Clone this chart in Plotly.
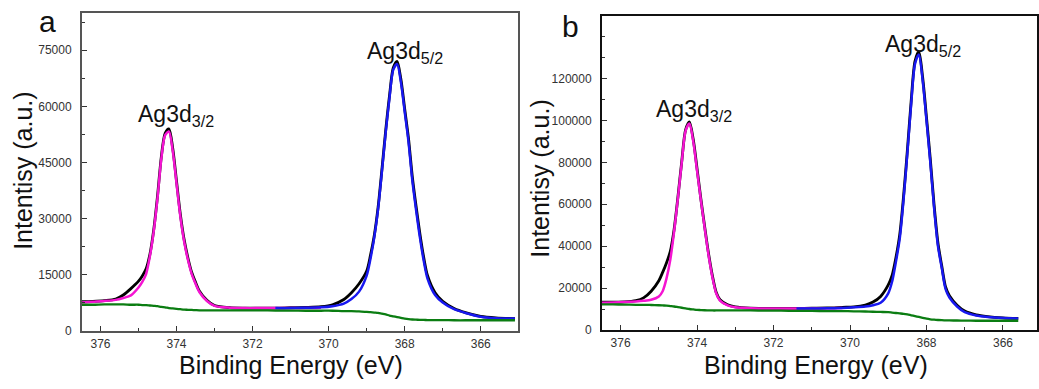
import plotly.graph_objects as go

# ---------------- data ----------------
energy_ev = [376.5, 376.2, 375.9, 375.6, 375.4, 375.2, 375.0, 374.9, 374.8, 374.7,
             374.6, 374.5, 374.4, 374.3, 374.2, 374.1, 374.0, 373.9, 373.8, 373.7,
             373.6, 373.5, 373.4, 373.2, 373.0, 372.6, 372.2, 371.8, 371.4, 371.0,
             370.6, 370.2, 369.9, 369.6, 369.4, 369.2, 369.0, 368.9, 368.8, 368.7,
             368.6, 368.5, 368.4, 368.3, 368.2, 368.1, 368.0, 367.9, 367.8, 367.7,
             367.6, 367.5, 367.4, 367.2, 367.0, 366.7, 366.4, 366.0, 365.6, 365.1]

energy_3d32 = energy_ev[:32]   # Ag3d3/2 fitted component range
energy_3d52 = energy_ev[28:]   # Ag3d5/2 fitted component range

# panel a
a_raw = [7800, 7900, 8100, 8500, 9600, 11300, 13300, 14700, 16600, 20500,
         27000, 36000, 46500, 52800, 54000, 48800, 40000, 31200, 24400, 19500,
         15600, 13000, 10700, 8200, 6800, 6200, 6100, 6100, 6100, 6200,
         6300, 6500, 7000, 8400, 10200, 12600, 16000, 20200, 25500, 33000,
         43000, 53500, 62800, 70300, 72000, 67300, 59400, 51500, 41300, 33300,
         26000, 19700, 14800, 10200, 7900, 6000, 4900, 3900, 3500, 3300]
a_fit_3d32 = [7600, 7800, 8000, 8300, 8800, 9500, 11600, 13100, 15200, 20000,
              26600, 35500, 46000, 52300, 53300, 48100, 39400, 30600, 23900, 19000,
              15200, 12600, 10400, 8000, 6700, 6200, 6100, 6100, 6100, 6100,
              6100, 6200]
a_fit_3d52 = [6100, 6100, 6200, 6300, 6600, 7300, 8500, 10500, 14800, 19300,
              25000, 32500, 42500, 53000, 62200, 69800, 71300, 66500, 58600, 50600,
              40300, 32300, 25000, 18800, 14000, 9600, 7600, 5800, 4800, 3800,
              3400, 3300]
a_background = [7000, 7000, 7100, 7100, 7100, 7000, 7000, 6900, 6900,
                6800, 6700, 6600, 6400, 6300, 6100, 6000, 5900,
                5800, 5700, 5650, 5600, 5550, 5500, 5500, 5500,
                5500, 5500, 5500, 5450, 5450, 5400, 5400,
                5400, 5300, 5300, 5200, 5100,
                5000, 4900, 4800, 4600, 4400, 4100, 3900, 3700, 3500, 3300,
                3150, 3050, 3000, 2950, 2950, 2900, 2900, 2900,
                2850, 2850, 2850, 2850, 2850]

# panel b
b_raw = [13300, 13300, 13400, 14000, 15300, 18500, 23500, 27500, 32000, 37500,
         48000, 63500, 80500, 95500, 99300, 91000, 77000, 62500, 49200, 36500,
         26000, 18000, 14400, 12000, 11000, 10400, 10300, 10300, 10300, 10400,
         10500, 10800, 11000, 11900, 13300, 16000, 21500, 26000, 34500, 45500,
         63800, 85800, 109500, 128300, 132800, 120500, 101500, 81500, 59500, 41500,
         30500, 20500, 16300, 11800, 9000, 7200, 6400, 5800, 5500, None]
b_fit_3d32 = [13000, 13100, 13300, 13600, 13900, 14400, 16000, 18500, 24500, 33500,
              47000, 63000, 80000, 95000, 98500, 90000, 76000, 62000, 48600, 35800,
              25300, 17500, 14000, 11700, 10800, 10300, 10200, 10200, 10200, 10200,
              10300, 10500]
b_fit_3d52 = [10200, 10200, 10300, 10500, 10800, 11200, 11800, 13000, 17500, 23000,
              32500, 43600, 62200, 84400, 108000, 127000, 131500, 119000, 100000, 80000,
              58000, 40000, 29500, 19500, 15500, 11200, 8500, 6900, 6200, 5700,
              5500, None]
b_background = [12200, 12200, 12100, 12000, 12000, 11900, 11800, 11700, 11600,
                11400, 11200, 10900, 10600, 10300, 10000, 9800, 9600,
                9500, 9400, 9350, 9300, 9300, 9300, 9300, 9300,
                9300, 9200, 9200, 9100, 9100, 9000, 9000,
                8900, 8800, 8700, 8600, 8500,
                8300, 8100, 7900, 7700, 7400, 7000, 6600, 6200, 5800, 5400,
                5100, 4900, 4750, 4650, 4600, 4550, 4500, 4450,
                4400, 4400, 4400, 4400, None]

x_ticks = [376, 374, 372, 370, 368, 366]
a_y_ticks = [0, 15000, 30000, 45000, 60000, 75000]
b_y_ticks = [0, 20000, 40000, 60000, 80000, 100000, 120000]

panel_labels = ["a", "b"]
peak_labels = ["Ag3d<sub>3/2</sub>", "Ag3d<sub>5/2</sub>"]
x_title = "Binding Energy (eV)"
y_title = "Intentisy (a.u.)"

# ---------------- figure ----------------
W, H = 1039, 389
FONT = "Liberation Sans, Arial, Helvetica, sans-serif"

COL_RAW = "#000000"
COL_32 = "#f514d2"
COL_52 = "#1818f0"
COL_BG = "#0b7d12"

fig = go.Figure()


def add_panel(raw, fit32, fit52, bg, xa, ya):
    common = dict(mode="lines", xaxis=xa, yaxis=ya, showlegend=False,
                  hoverinfo="skip")
    fig.add_trace(go.Scatter(x=energy_ev, y=raw,
                             line=dict(color=COL_RAW, width=2.8, shape="spline", smoothing=0.8),
                             **common))
    fig.add_trace(go.Scatter(x=energy_3d32, y=fit32,
                             line=dict(color=COL_32, width=2.5, shape="spline", smoothing=0.8),
                             **common))
    fig.add_trace(go.Scatter(x=energy_3d52, y=fit52,
                             line=dict(color=COL_52, width=2.5, shape="spline", smoothing=0.8),
                             **common))
    fig.add_trace(go.Scatter(x=energy_ev, y=bg,
                             line=dict(color=COL_BG, width=2.3, shape="spline", smoothing=0.8),
                             **common))


add_panel(a_raw, a_fit_3d32, a_fit_3d52, a_background, "x", "y")
add_panel(b_raw, b_fit_3d32, b_fit_3d52, b_background, "x2", "y2")


def px_x(p):
    return p / W


def px_y(p):
    return 1 - p / H


def xaxis(domain, rng, linecol):
    return dict(domain=domain, range=rng, tickmode="array", tickvals=x_ticks,
                ticktext=[str(t) for t in x_ticks],
                ticks="inside", ticklen=5, tickwidth=1, tickcolor="#333",
                minor=dict(ticks="inside", ticklen=3, dtick=1, tick0=0, tickcolor="#333"),
                showline=True, linecolor=linecol, linewidth=1.6, mirror=True,
                showgrid=False, zeroline=False, ticklabelstandoff=1,
                tickfont=dict(family=FONT, size=12, color="#333"))


def yaxis(domain, rng, ticks, minor_dtick, linecol, anchor):
    return dict(domain=domain, range=rng, tickmode="array", tickvals=ticks,
                ticktext=[str(t) for t in ticks], anchor=anchor,
                ticks="inside", ticklen=5, tickwidth=1, tickcolor="#333",
                minor=dict(ticks="inside", ticklen=3, dtick=minor_dtick, tick0=0,
                           tickcolor="#333"),
                showline=True, linecolor=linecol, linewidth=1.6, mirror=True,
                showgrid=False, zeroline=False, ticklabelstandoff=6,
                tickfont=dict(family=FONT, size=12, color="#333"))


fig.update_layout(
    width=W, height=H,
    margin=dict(l=0, r=0, t=0, b=0),
    paper_bgcolor="white", plot_bgcolor="white",
    font=dict(family=FONT, color="#111"),
    xaxis=dict(**xaxis([px_x(82), px_x(519)], [376.49, 365.02], "#555"), anchor="y"),
    yaxis=yaxis([px_y(337), px_y(13)], [0, 85000], a_y_ticks, 7500, "#555", "x"),
    xaxis2=dict(**xaxis([px_x(603), 1.0], [376.49, 365.11], "#111"), anchor="y2"),
    yaxis2=yaxis([px_y(336), px_y(16)], [0, 150000], b_y_ticks, 10000, "#111", "x2"),
)

ann = []
# panel letters
ann.append(dict(text=panel_labels[0], x=px_x(48), y=px_y(22), font=dict(size=30)))
ann.append(dict(text=panel_labels[1], x=px_x(572), y=px_y(27), font=dict(size=30)))
# axis titles (top-anchored just under the tick labels)
ann.append(dict(text=x_title, x=px_x(292), y=px_y(355), yanchor="top", font=dict(size=25)))
ann.append(dict(text=x_title, x=px_x(818), y=px_y(355), yanchor="top", font=dict(size=25)))
ann.append(dict(text=y_title, x=px_x(23), y=px_y(174), font=dict(size=25), textangle=-90))
ann.append(dict(text=y_title, x=px_x(541), y=px_y(182), font=dict(size=25), textangle=-90))
# peak labels (left edge, baseline-based)
for txt, xl, base in [(peak_labels[0], 136, 124), (peak_labels[1], 366, 59),
                      (peak_labels[0], 655, 119), (peak_labels[1], 885, 52)]:
    ann.append(dict(text=txt, x=px_x(xl), y=px_y(base - 6), xanchor="left",
                    font=dict(size=23)))

for a in ann:
    a.setdefault("xanchor", "center")
    a.setdefault("yanchor", "middle")
    a["xref"] = "paper"
    a["yref"] = "paper"
    a["showarrow"] = False
    a["font"] = dict(family=FONT, color="#111", **a["font"])
fig.update_layout(annotations=ann)

fig.write_html("out.html")
